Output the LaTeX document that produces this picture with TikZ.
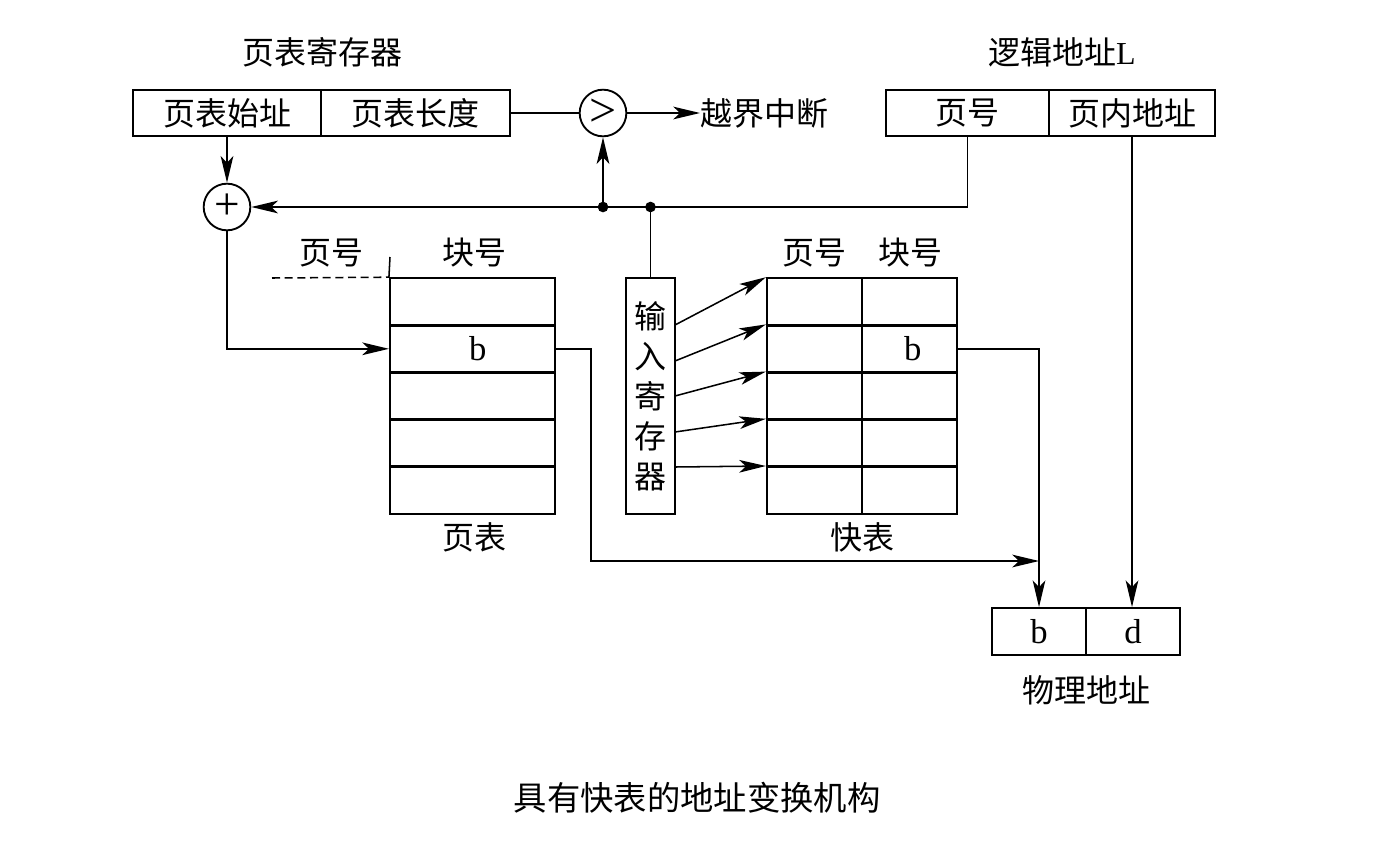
\documentclass[tikz,border=0pt]{standalone}
\usepackage{fontspec}
\setmainfont{Liberation Serif}
\newfontfamily\cjk{Noto Sans CJK SC}
\usetikzlibrary{arrows.meta}
\tikzset{
  cell/.style={draw, line width=1.6pt, inner sep=0pt, minimum height=35pt, font=\cjk\fontsize{24}{28}\selectfont},
  lbl/.style={inner sep=0pt, font=\cjk\fontsize{24}{28}\selectfont},
  conn/.style={line width=1.15pt},
  arr/.style={conn, -{Stealth[length=20pt, width=9.5pt, inset=5pt]}},
  op/.style={draw, circle, line width=1.4pt, minimum size=35pt, inner sep=0pt},
  dot/.style={circle, fill, inner sep=0pt, minimum size=8pt}
}
\begin{document}
\begin{tikzpicture}[x=0.75pt,y=-0.75pt]
\useasboundingbox (0,0) rectangle (1388,860);
% page table register
\node[lbl] (ptrtitle) at (322,52) {页表寄存器};
\node[cell, minimum width=141pt] (pbase) at (227,113) {页表始址};
\node[cell, minimum width=141.75pt] (plen) at (415.5,113) {页表长度};
% comparator
\node[op, font=\rmfamily\fontsize{36}{36}\selectfont] (cmp) at (603,113) {>};
\node[lbl, anchor=west] (irq) at (700,113) {越界中断};
% logical address
\node[lbl] (latitle) at (1062,52) {逻辑地址\rmfamily L};
\node[cell, minimum width=122.25pt] (lpage) at (967.5,113) {页号};
\node[cell, minimum width=124.5pt] (loff) at (1132,113) {页内地址};
% adder
\node[op, font=\rmfamily\fontsize{34}{34}\selectfont] (plus) at (227,207) {+};
\coordinate (j1) at (603,207);
\coordinate (j2) at (650.5,207);
% page table
\node[lbl] (pth1) at (331,253) {页号};
\node[lbl] (pth2) at (474,253) {块号};
\node[cell, minimum width=123.75pt] (pt1) at (472.5,301.6) {};
\node[cell, minimum width=123.75pt, font=\rmfamily\fontsize{26}{28}\selectfont] (pt2) at (472.5,348.8) {\hspace*{8pt}b};
\node[cell, minimum width=123.75pt] (pt3) at (472.5,396) {};
\node[cell, minimum width=123.75pt] (pt4) at (472.5,443.2) {};
\node[cell, minimum width=123.75pt] (pt5) at (472.5,490.4) {};
\node[lbl] (ptname) at (474,537) {页表};
\coordinate (ptvtop) at (390,257);
\coordinate (ptdash) at (272,278);
% input register
\node[cell, minimum width=36.75pt, minimum height=177pt, align=center, font=\cjk\fontsize{24}{30}\selectfont] (inreg) at (650.5,396) {输\\入\\寄\\存\\器};
\coordinate (o1) at (675,325);
\coordinate (o2) at (675,361);
\coordinate (o3) at (675,396);
\coordinate (o4) at (675,432);
\coordinate (o5) at (675,467);
% TLB
\node[lbl] (tlbh1) at (814,253) {页号};
\node[lbl] (tlbh2) at (910,253) {块号};
\foreach \i/\y in {1/301.6,2/348.8,3/396,4/443.2,5/490.4}{
  \node[cell, minimum width=71.25pt] (tlb\i a) at (814.5,\y) {};
}
\node[cell, minimum width=71.25pt] (tlb1b) at (909.5,301.6) {};
\node[cell, minimum width=71.25pt, font=\rmfamily\fontsize{26}{28}\selectfont] (tlb2b) at (909.5,348.8) {\hspace*{5pt}b};
\node[cell, minimum width=71.25pt] (tlb3b) at (909.5,396) {};
\node[cell, minimum width=71.25pt] (tlb4b) at (909.5,443.2) {};
\node[cell, minimum width=71.25pt] (tlb5b) at (909.5,490.4) {};
\node[lbl] (tlbname) at (862,537) {快表};
% physical address
\node[cell, minimum width=70.5pt, font=\rmfamily\fontsize{26}{28}\selectfont] (phb) at (1039,631.5) {b};
\node[cell, minimum width=70.5pt, font=\rmfamily\fontsize{26}{28}\selectfont] (phd) at (1133,631.5) {d};
\node[lbl] (phname) at (1086,690) {物理地址};
\coordinate (ptturn) at (591,561);
\coordinate (merge) at (1039,561);
% caption
\node[lbl, font=\cjk\fontsize{25}{28}\selectfont] (caption) at (697,798) {具有快表的地址变换机构};
% connectors
\draw[conn] (plen.east) -- (cmp.west);
\draw[arr] (cmp.east) -- (irq.west);
\draw[arr] (pbase.south) -- (plus.north);
\draw[arr] (lpage.south) |- (plus.east);
\draw[arr] (j1) -- (cmp.south);
\draw[conn] (j2) -- (inreg.north);
\node[dot] at (j1) {};
\node[dot] at (j2) {};
\draw[arr] (plus.south) |- (pt2.west);
\draw[conn] (ptvtop) -- (pt1.north west);
\draw[conn, dashed, dash pattern=on 6pt off 3.5pt] (ptdash) -- (pt1.north west);
\draw[arr] (pt2.east) -| (ptturn) -- (merge);
\draw[arr] (tlb2b.east) -| (phb.north);
\draw[arr] (loff.south) -- (loff.south |- phd.north);
\draw[arr] (o1) -- (tlb1a.north west);
\draw[arr] (o2) -- (tlb2a.north west);
\draw[arr] (o3) -- (tlb3a.north west);
\draw[arr] (o4) -- (tlb4a.north west);
\draw[arr] (o5) -- (tlb5a.north west);
\end{tikzpicture}
\end{document}
